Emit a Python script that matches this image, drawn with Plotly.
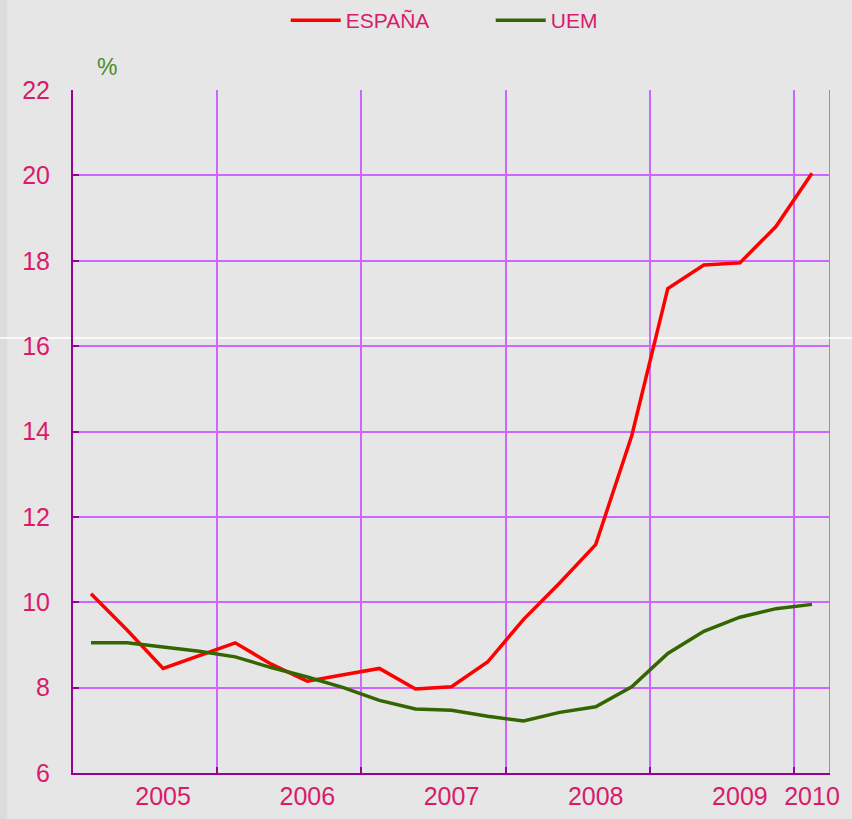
import plotly.graph_objects as go

# quarterly data, 2005 Q1 .. 2010 Q1
quarters = ["2005-I", "2005-II", "2005-III", "2005-IV",
            "2006-I", "2006-II", "2006-III", "2006-IV",
            "2007-I", "2007-II", "2007-III", "2007-IV",
            "2008-I", "2008-II", "2008-III", "2008-IV",
            "2009-I", "2009-II", "2009-III", "2009-IV",
            "2010-I"]
espana = [10.2, 9.35, 8.45, 8.75, 9.05, 8.55, 8.15, 8.3, 8.45, 7.97, 8.02, 8.6,
          9.6, 10.45, 11.35, 13.9, 17.35, 17.9, 17.95, 18.8, 20.05]
uem = [9.05, 9.05, 8.95, 8.85, 8.72, 8.47, 8.25, 8.0, 7.7, 7.5, 7.47, 7.33,
       7.22, 7.42, 7.55, 8.02, 8.8, 9.32, 9.65, 9.85, 9.95]
years = [2005, 2006, 2007, 2008, 2009, 2010]
year_labels = ["2005", "2006", "2007", "2008", "2009", "2010"]
# the year label sits on this quarter
label_quarters = ["2005-III", "2006-III", "2007-III", "2008-III", "2009-III", "2010-I"]

# numeric position of each quarter (middle of the quarter)
def qpos(q):
    y, r = q.split("-")
    n = {"I": 1, "II": 2, "III": 3, "IV": 4}[r]
    return int(y) + (n - 0.5) / 4

x = [qpos(q) for q in quarters]
x_end = years[-1] + 0.25
label_pos = [qpos(q) for q in label_quarters]

PINK = "#d81b6a"
DARK = "#990099"
GRID = "#cc66ff"
BG = "#e6e6e6"

fig = go.Figure()
fig.add_trace(go.Scatter(x=x, y=espana, mode="lines", name="ESPAÑA",
                         line=dict(color="#ff0000", width=3.5)))
fig.add_trace(go.Scatter(x=x, y=uem, mode="lines", name="UEM",
                         line=dict(color="#336600", width=3.5)))

fig.update_layout(
    width=852, height=819,
    paper_bgcolor=BG, plot_bgcolor=BG,
    margin=dict(l=73, r=22, t=90, b=46, autoexpand=False),
    font=dict(family="Liberation Sans, Arial, sans-serif", color=PINK),
    showlegend=True,
    legend=dict(orientation="h", x=0.281, xanchor="left",
                yref="container", y=1.0, yanchor="top",
                font=dict(size=21, color=PINK), bgcolor="rgba(0,0,0,0)",
                itemwidth=50, entrywidth=140),
    xaxis=dict(range=[years[0], x_end], tickvals=label_pos, ticktext=year_labels,
               showgrid=False, ticks="", tickfont=dict(size=25, color=PINK),
               showline=True, linecolor=DARK, linewidth=2, zeroline=False,
               minor=dict(tickvals=years[1:], showgrid=True,
                          gridcolor=GRID, gridwidth=2, ticks="inside",
                          ticklen=6, tickcolor=DARK, tickwidth=2)),
    yaxis=dict(range=[6, 22], dtick=2, showgrid=True, gridcolor=GRID, gridwidth=2,
               ticks="inside", ticklen=6, tickcolor=DARK, tickwidth=2,
               tickfont=dict(size=25, color=PINK), ticklabelstandoff=16,
               showline=True, linecolor=DARK, linewidth=2, zeroline=False),
)

# right border of the plot drawn like a grid line
fig.add_shape(type="line", xref="x", yref="paper", x0=x_end, x1=x_end, y0=0, y1=1,
              line=dict(color=GRID, width=2), layer="below")

fig.add_annotation(text="%", xref="paper", yref="paper", x=0.045, y=1.012,
                   xanchor="center", yanchor="bottom", showarrow=False,
                   font=dict(size=23, color="#4d8a2a"))

# darker left strip and thin white band across the page, as in the original
fig.add_shape(type="rect", xref="paper", yref="paper", x0=-0.097, x1=-0.087,
              y0=-0.08, y1=1.14, line=dict(width=0), fillcolor="#dcdcdc", layer="below")
fig.add_shape(type="line", xref="paper", yref="y", x0=-0.1, x1=1.03,
              y0=16.19, y1=16.19, line=dict(color="white", width=1.5), layer="below")

fig.write_html("out.html", config={"displayModeBar": False},
               post_script="document.body.style.margin='0';")
